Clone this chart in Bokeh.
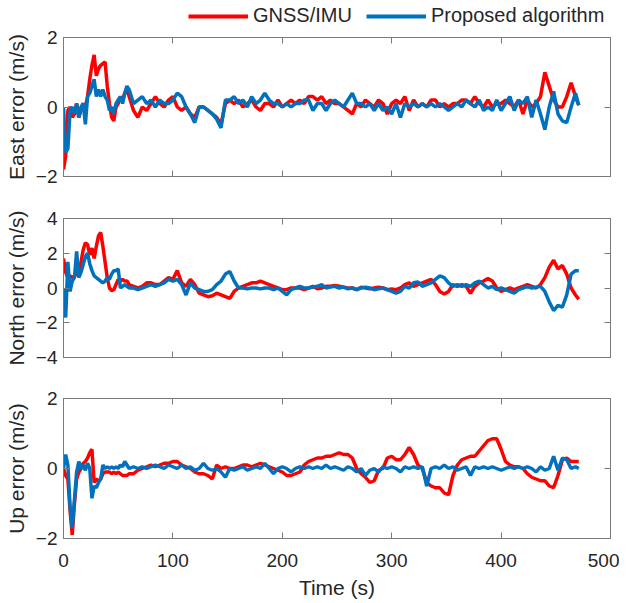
from bokeh.plotting import figure
from bokeh.models import Range1d, FixedTicker, LinearAxis, Legend, LegendItem, ColumnDataSource
from bokeh.layouts import column
from bokeh.embed import file_html
from bokeh.resources import INLINE

# ---------------- data ----------------
time_s = [
    0, 2, 4, 6, 8, 10, 12, 14, 16, 18,
    20, 22, 24, 26, 28, 30, 32, 34, 36, 38,
    40, 42, 44, 46, 48, 50, 52, 54, 56, 58,
    60, 64, 68, 72, 76, 80, 84, 88, 92, 96,
    100, 104, 108, 112, 116, 120, 124, 128, 132, 136,
    140, 144, 148, 152, 156, 160, 164, 168, 172, 176,
    180, 184, 188, 192, 196, 200, 204, 208, 212, 216,
    220, 224, 228, 232, 236, 240, 244, 248, 252, 256,
    260, 264, 268, 272, 276, 280, 284, 288, 292, 296,
    300, 304, 308, 312, 316, 320, 324, 328, 332, 336,
    340, 344, 348, 352, 356, 360, 364, 368, 372, 376,
    380, 384, 388, 392, 396, 400, 404, 408, 412, 416,
    420, 424, 428, 432, 436, 440, 444, 448, 452, 456,
    460, 464, 468, 471,
]

east_gnss = [
    -1.8, -1.4, -0.1, 0.0, -0.3, -0.2, 0.1, -0.3, -0.1, 0.1,
    0.0, 0.3, 0.8, 1.2, 1.5, 0.9, 1.1, 1.2, 1.25, 1.3,
    0.6, 0.1, -0.3, -0.4, 0.0, 0.1, 0.3, 0.2, 0.4, 0.5,
    0.3, -0.1, -0.3, 0.0, -0.1, 0.1, 0.3, 0.1, 0.0, 0.2,
    0.3, 0.0, -0.1, 0.0, -0.2, -0.3, 0.0, 0.0, -0.1, -0.2,
    -0.3, -0.5, 0.1, 0.2, 0.1, 0.2, 0.0, 0.1, 0.2, 0.0,
    -0.1, 0.1, 0.1, 0.0, 0.2, 0.0, 0.1, 0.2, 0.1, 0.2,
    0.1, 0.3, 0.3, 0.2, 0.3, 0.1, 0.2, 0.1, 0.1, 0.0,
    -0.1, -0.2, 0.1, 0.0, 0.2, 0.1, 0.0, 0.2, 0.1, -0.2,
    0.1, 0.2, 0.1, 0.3, -0.1, 0.2, 0.0, 0.1, 0.0, 0.2,
    0.2, 0.0, 0.1, 0.0, 0.1, 0.1, 0.2, 0.2, 0.1, 0.3,
    0.1, 0.0, 0.2, 0.0, 0.1, 0.1, 0.2, 0.1, 0.0, 0.2,
    -0.2, 0.2, 0.0, 0.1, 0.3, 1.0, 0.6, 0.2, 0.0, 0.0,
    0.3, 0.7, 0.3, 0.05,
]
east_proposed = [
    0.0, -1.3, -1.2, -0.1, 0.0, -0.2, 0.1, -0.3, 0.0, 0.1,
    -0.5, 0.3, 0.4, 0.6, 0.8, 0.3, 0.5, 0.3, 0.5, 0.3,
    0.2, -0.1, 0.0, -0.2, 0.1, 0.2, 0.3, 0.1, 0.4, 0.6,
    0.5, 0.1, 0.2, 0.3, 0.1, 0.2, 0.0, 0.2, 0.1, 0.1,
    0.2, 0.4, 0.3, 0.0, -0.2, -0.45, 0.0, 0.0, -0.1, -0.2,
    -0.35, -0.6, 0.2, 0.2, 0.3, 0.1, 0.2, 0.0, 0.3, 0.1,
    0.2, 0.4, 0.2, 0.1, 0.1, 0.0, 0.1, 0.0, 0.1, 0.1,
    0.2, 0.2, -0.1, 0.1, 0.1, -0.1, 0.1, 0.2, 0.1, 0.0,
    0.2, 0.4, 0.1, 0.1, 0.0, 0.1, -0.1, 0.1, -0.1, 0.0,
    -0.2, 0.1, -0.3, 0.1, 0.0, 0.1, 0.0, 0.1, 0.0, 0.1,
    0.0, 0.1, 0.0, -0.1, 0.0, 0.1, 0.0, 0.2, 0.1, 0.0,
    0.2, -0.1, 0.0, -0.1, 0.2, -0.1, 0.1, 0.3, -0.1, 0.2,
    0.1, 0.3, -0.3, 0.2, -0.2, -0.65, 0.0, 0.45, -0.2, -0.4,
    -0.45, 0.0, 0.4, 0.05,
]

north_gnss = [
    1.7, 0.9, 0.6, 0.7, 0.6, 0.7, 0.8, 0.8, 1.5, 2.2,
    2.6, 2.5, 1.9, 2.3, 1.7, 2.4, 3.0, 3.2, 2.4, 1.5,
    0.6, 0.0, -0.15, -0.1, 0.2, 0.5, 0.4, 0.5, 0.4, 0.4,
    0.2, 0.1, 0.0, 0.1, 0.3, 0.3, 0.2, 0.2, 0.4, 0.6,
    0.5, 1.0, 0.3, 0.1, 0.5, 0.2, -0.3, -0.4, -0.5, -0.45,
    -0.3, -0.4, -0.5, -0.6, -0.2, 0.0, 0.1, 0.2, 0.3, 0.3,
    0.4, 0.3, 0.2, 0.1, 0.0, -0.1, -0.1, 0.0, 0.0, 0.0,
    -0.1, 0.0, 0.1, -0.05, 0.0, 0.1, 0.1, 0.15, 0.1, 0.05,
    0.0, 0.0, -0.1, 0.05, 0.0, -0.05, 0.0, 0.05, 0.0, -0.1,
    -0.05, -0.1, 0.0, 0.2, 0.3, 0.1, 0.2, 0.3, 0.4, 0.5,
    0.2, -0.2, -0.35, -0.2, 0.2, 0.1, 0.2, 0.1, -0.3, 0.1,
    0.3, 0.4, 0.55, 0.4, 0.0, -0.2, -0.1, 0.0, -0.1, 0.0,
    0.1, 0.2, 0.1, 0.0, 0.2, 0.6, 1.2, 1.6, 1.1, 1.3,
    0.8, 0.0, -0.4, -0.65,
]
north_proposed = [
    0.0, -1.7, 1.5, -0.2, 0.4, 0.6, 2.1, 0.6, 0.9, 1.35,
    1.8, 2.0, 1.4, 1.0, 0.7, 0.6, 0.5, 0.4, 0.3, 0.4,
    0.6, 0.5, 0.8, 1.0, 1.0, 1.1, 0.0, 0.1, 0.2, 0.1,
    0.0, 0.0, -0.1, 0.0, 0.1, 0.2, 0.1, 0.2, 0.3, 0.5,
    0.4, 0.5, 0.2, -0.4, 0.3, 0.0, -0.1, -0.2, -0.2, -0.1,
    0.2, 0.4, 0.8, 0.95, 0.4, 0.0, 0.0, -0.05, 0.0, 0.0,
    -0.05, 0.0, 0.0, -0.1, 0.0, -0.2, -0.4, -0.1, 0.0, 0.1,
    0.0, 0.0, 0.05, 0.1, 0.2, 0.0, 0.05, 0.1, 0.0, 0.05,
    -0.05, 0.0, -0.1, 0.0, 0.05, 0.0, -0.1, -0.05, 0.0, -0.1,
    -0.2, -0.3, -0.2, 0.1, 0.0, 0.3, 0.35, 0.1, 0.2, 0.3,
    0.5, 0.7, 0.6, 0.3, 0.1, 0.2, 0.1, 0.2, 0.1, 0.3,
    0.4, 0.2, 0.0, 0.1, -0.1, 0.0, -0.1, -0.2, -0.3, -0.1,
    0.0, 0.1, 0.0, 0.05, 0.1, -0.2, -0.8, -1.3, -1.0, -1.1,
    -0.4, 0.8, 1.0, 1.0,
]

up_gnss = [
    0.0, -0.2, -0.3, -1.2, -1.9, -1.0, -0.3, -0.1, 0.0, 0.15,
    0.2, 0.3, 0.45, 0.55, -0.4, -0.3, -0.35, -0.3, -0.15, -0.1,
    -0.1, -0.1, -0.15, -0.1, -0.15, -0.1, -0.15, -0.2, -0.2, -0.2,
    -0.15, -0.15, -0.05, 0.0, 0.05, 0.1, 0.05, 0.1, 0.15, 0.15,
    0.2, 0.2, 0.1, 0.05, 0.0, -0.1, -0.15, -0.15, -0.2, -0.3,
    0.1, 0.0, 0.05, 0.0, 0.0, 0.05, 0.1, 0.1, 0.05, 0.1,
    0.15, 0.1, 0.05, 0.0, -0.05, -0.1, -0.2, -0.2, -0.15, -0.1,
    0.1, 0.2, 0.25, 0.3, 0.3, 0.35, 0.35, 0.4, 0.45, 0.4,
    0.4, 0.3, 0.0, -0.15, -0.25, -0.4, -0.35, -0.05, 0.0, 0.3,
    0.35, 0.25, 0.25, 0.4, 0.6, 0.4, 0.1, 0.0, -0.4, -0.5,
    -0.55, -0.55, -0.7, -0.75, -0.2, 0.1, 0.25, 0.3, 0.35, 0.35,
    0.5, 0.65, 0.8, 0.85, 0.85, 0.55, 0.2, 0.1, 0.05, 0.05,
    0.0, -0.15, -0.25, -0.3, -0.35, -0.35, -0.5, -0.55, -0.2, 0.25,
    0.3, 0.2, 0.2, 0.2,
]
up_proposed = [
    0.0, 0.4, 0.1, -1.1, -1.7, -0.9, -0.1, 0.2, 0.0, 0.1,
    -0.05, 0.15, 0.0, -0.85, -0.5, -0.55, -0.4, -0.3, 0.1, 0.0,
    0.05, 0.0, 0.05, 0.0, 0.05, 0.0, 0.1, 0.05, 0.2, 0.1,
    0.0, 0.05, 0.0, 0.05, 0.0, 0.05, 0.1, 0.05, 0.0, 0.1,
    0.05, 0.0, 0.1, 0.0, 0.05, -0.05, 0.0, 0.15, 0.0, -0.05,
    0.0, -0.1, -0.25, 0.0, -0.05, 0.0, 0.05, -0.05, 0.0, 0.05,
    0.0, 0.15, 0.0, -0.15, 0.0, 0.05, 0.0, -0.1, 0.0, 0.05,
    0.0, 0.05, 0.0, 0.05, 0.0, 0.1, 0.0, 0.05, 0.0, -0.05,
    0.05, 0.0, -0.1, 0.0, -0.2, -0.05, 0.0, -0.1, 0.05, 0.0,
    0.05, 0.0, -0.1, 0.05, 0.0, 0.05, 0.0, 0.05, -0.5, 0.0,
    0.05, 0.0, 0.1, 0.0, 0.05, -0.05, 0.0, 0.05, -0.2, 0.05,
    0.0, 0.05, 0.0, 0.05, 0.0, -0.05, 0.0, 0.05, 0.0, 0.05,
    0.0, 0.05, 0.0, -0.1, 0.05, -0.05, 0.0, 0.35, -0.05, 0.3,
    0.25, 0.0, 0.05, 0.0,
]

x_ticks = [0, 100, 200, 300, 400, 500]
series_names = ["GNSS/IMU", "Proposed algorithm"]
series_colors = ["#FF0000", "#0072BD"]

FONT = "Liberation Sans"
TEXT = "#262626"
AXIS = "#7a7a7a"
W = 619
LEG_H = 27
LW = 3.5


def style_axis(ax, show_labels, standoff=6):
    ax.axis_line_color = AXIS
    ax.major_tick_line_color = AXIS
    ax.minor_tick_line_color = None
    ax.major_tick_in = 6
    ax.major_tick_out = 0
    ax.major_label_text_font = FONT
    ax.major_label_text_color = TEXT
    ax.major_label_standoff = standoff
    ax.axis_label_text_font = FONT
    ax.axis_label_text_color = TEXT
    ax.axis_label_text_font_style = "normal"
    ax.axis_label_text_font_size = "21px"
    if show_labels:
        ax.major_label_text_font_size = "19px"
    else:
        ax.major_label_text_font_size = "1px"
        ax.major_label_text_color = None
        ax.major_label_standoff = 0


def make_fig(height, top, bottom, ylim, yticks, ylabel, gnss, prop, show_x):
    p = figure(width=W, height=height, output_backend="svg", toolbar_location=None,
               x_range=Range1d(0, 500), y_range=Range1d(*ylim),
               min_border_left=63, min_border_right=9,
               min_border_top=top, min_border_bottom=bottom)
    p.grid.visible = False
    p.outline_line_color = AXIS
    p.background_fill_color = "white"
    p.border_fill_color = "white"

    src = ColumnDataSource(dict(t=time_s, a=gnss, b=prop))
    p.line("t", "a", source=src, line_color=series_colors[0], line_width=LW)
    p.line("t", "b", source=src, line_color=series_colors[1], line_width=LW)

    p.xaxis.ticker = FixedTicker(ticks=x_ticks)
    p.yaxis.ticker = FixedTicker(ticks=yticks)
    style_axis(p.xaxis[0], show_x, standoff=15)
    style_axis(p.yaxis[0], True, standoff=6)
    p.yaxis.axis_label = ylabel
    p.yaxis.axis_label_standoff = 5
    if show_x:
        p.xaxis.axis_label = "Time (s)"
        p.xaxis.axis_label_standoff = 6

    top_ax = LinearAxis(ticker=FixedTicker(ticks=x_ticks))
    style_axis(top_ax, False)
    p.add_layout(top_ax, "above")
    right_ax = LinearAxis(ticker=FixedTicker(ticks=yticks))
    style_axis(right_ax, False)
    p.add_layout(right_ax, "right")
    return p


# legend strip (its own small figure, no axes); the two key lines lie outside its range
pl = figure(width=W, height=LEG_H, output_backend="svg", toolbar_location=None,
            x_axis_type=None, y_axis_type=None,
            x_range=Range1d(0, 1), y_range=Range1d(0, 1),
            min_border_left=63, min_border_right=9, min_border_top=0, min_border_bottom=0)
pl.grid.visible = False
pl.outline_line_color = None
pl.border_fill_color = "white"
g1 = pl.line(x=[-5, -4], y=[-5, -5], line_color=series_colors[0], line_width=4)
g2 = pl.line(x=[-5, -4], y=[-5, -5], line_color=series_colors[1], line_width=4)
legend = Legend(items=[LegendItem(label=series_names[0], renderers=[g1]),
                       LegendItem(label=series_names[1], renderers=[g2])],
                location=(125, 0), orientation="horizontal")
legend.label_text_font = FONT
legend.label_text_font_size = "20px"
legend.label_text_color = TEXT
legend.glyph_width = 60
legend.glyph_height = 20
legend.label_standoff = 5
legend.spacing = 14
legend.padding = 0
legend.margin = 0
legend.border_line_color = None
legend.background_fill_alpha = 0
pl.add_layout(legend)

p1 = make_fig(197 - LEG_H, 37 - LEG_H, 21, (-2, 2), [-2, 0, 2], "East error (m/s)",
              east_gnss, east_proposed, False)
p2 = make_fig(180, 21, 20, (-4, 4), [-4, -2, 0, 2, 4], "North error (m/s)",
              north_gnss, north_proposed, False)
p3 = make_fig(224, 21, 63, (-2, 2), [-2, 0, 2], "Up error (m/s)",
              up_gnss, up_proposed, True)

layout = column(pl, p1, p2, p3, spacing=0)
open("out.html", "w").write(file_html(layout, INLINE))
